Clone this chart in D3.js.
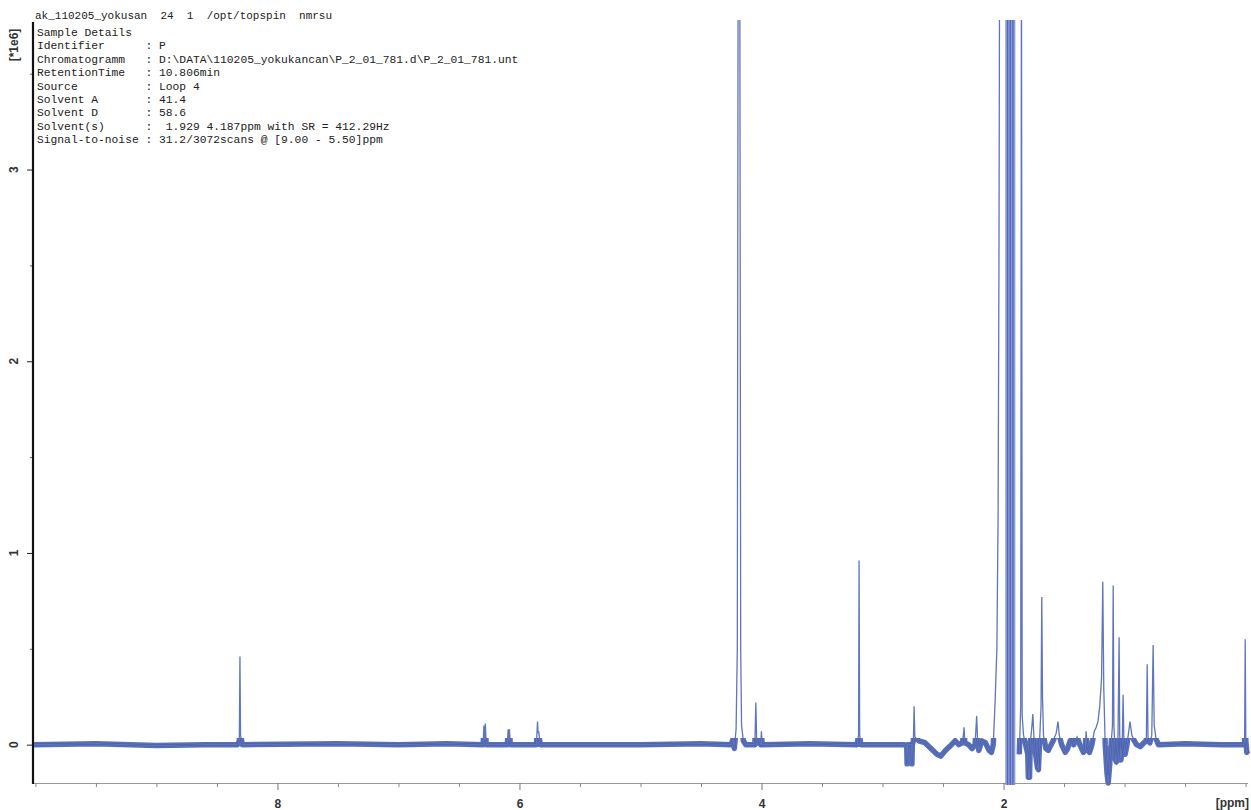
<!DOCTYPE html>
<html><head><meta charset="utf-8">
<script src="https://cdn.jsdelivr.net/npm/d3@7"></script>
<style>body{margin:0;background:#fff;} svg{display:block;} text{white-space:pre;}</style>
</head><body>
<svg id="c" width="1251" height="810"></svg>
<script>
// ---------- data ----------
const headerLine = "ak_110205_yokusan  24  1  /opt/topspin  nmrsu";
const detailLines = [
  "Sample Details",
  "Identifier      : P",
  "Chromatogramm   : D:\\DATA\\110205_yokukancan\\P_2_01_781.d\\P_2_01_781.unt",
  "RetentionTime   : 10.806min",
  "Source          : Loop 4",
  "Solvent A       : 41.4",
  "Solvent D       : 58.6",
  "Solvent(s)      :  1.929 4.187ppm with SR = 412.29Hz",
  "Signal-to-noise : 31.2/3072scans @ [9.00 - 5.50]ppm"
];
const xTickValues = [8, 6, 4, 2];
const xMinorTicks = [10, 9.5, 9, 8.5, 7.5, 7, 6.5, 5.5, 5, 4.5, 3.5, 3, 2.5, 1.5, 1, 0.5, 0];
const yTickValues = [0, 1, 2, 3];
const yMinorTicks = [0.5, 1.5, 2.5, 3.5];
const yUnitLabel = "[*1e6]";
const xUnitLabel = "[ppm]";

// spectrum: [ppm, intensity (x1e6)]; null intensity = gap in the trace
const spectrum = [
  [10.02, 0.0], [9.5, 0.005], [9.0, -0.005], [8.6, 0.0],
  [8.33, 0.0], [8.315, 0.02], [8.31, 0.46], [8.305, 0.05], [8.29, 0.0],
  [7.5, 0.005], [7.0, 0.0], [6.6, 0.005],
  [6.30, 0.0], [6.294, 0.10], [6.288, 0.02], [6.282, 0.11], [6.275, 0.0],
  [6.10, 0.0], [6.094, 0.08], [6.089, 0.02], [6.083, 0.08], [6.076, 0.0],
  [5.86, 0.0], [5.851, 0.12], [5.846, 0.06], [5.841, 0.07], [5.83, 0.0],
  [5.0, 0.0], [4.5, 0.005],
  [4.25, 0.0], [4.235, 0.03], [4.225, -0.02], [4.21, 0.08], [4.2, 0.5],
  [4.193, 4.3], [4.18, 4.3], [4.172, 0.5], [4.165, 0.1], [4.15, 0.02], [4.13, 0.0],
  [4.055, 0.0], [4.047, 0.22], [4.04, 0.02], [4.006, 0.0], [4.001, 0.07], [3.995, 0.0],
  [3.6, 0.005],
  [3.21, 0.0], [3.198, 0.05], [3.194, 0.96], [3.189, 0.05], [3.18, 0.0],
  [2.82, 0.0], [2.80, -0.01], [2.797, -0.1], [2.794, 0.0], [2.76, 0.0], [2.757, -0.1],
  [2.754, 0.0], [2.745, 0.02], [2.739, 0.2], [2.733, 0.04], [2.70, 0.02], [2.65, 0.01],
  [2.6, -0.02], [2.55, -0.05], [2.52, -0.06], [2.48, -0.03], [2.43, 0.0], [2.40, 0.02],
  [2.37, 0.0], [2.34, 0.01], [2.33, 0.06], [2.326, 0.09], [2.32, 0.01], [2.29, 0.0],
  [2.26, -0.02], [2.235, 0.0], [2.222, 0.15], [2.215, 0.03], [2.205, -0.03], [2.18, 0.02],
  [2.15, 0.01], [2.12, -0.03], [2.10, -0.04], [2.085, 0.0], [2.07, 0.22], [2.055, 0.5],
  [2.045, 1.2], [2.038, 2.5], [2.032, 4.3], [1.99, 4.3], [1.985, null],
  [1.87, -0.05], [1.858, 0.2], [1.852, 4.3], [1.846, 0.15],
  [1.835, 0.05], [1.80, -0.05], [1.795, -0.17], [1.785, -0.17], [1.78, 0.0], [1.765, 0.1],
  [1.758, 0.16], [1.75, 0.05], [1.735, -0.05], [1.72, -0.12], [1.712, -0.13], [1.70, 0.05],
  [1.69, 0.2], [1.684, 0.77], [1.678, 0.25], [1.67, 0.05], [1.65, -0.02], [1.63, -0.03],
  [1.615, -0.01], [1.59, 0.02], [1.565, 0.06], [1.55, 0.12], [1.54, 0.05], [1.52, 0.0],
  [1.49, -0.04], [1.47, -0.02], [1.45, 0.02], [1.433, 0.03], [1.42, 0.0], [1.40, 0.03],
  [1.392, 0.04], [1.37, 0.0], [1.34, -0.04], [1.325, -0.03], [1.318, 0.07], [1.31, 0.0],
  [1.29, -0.04], [1.27, 0.0], [1.25, 0.07], [1.235, 0.09], [1.22, 0.12], [1.205, 0.2],
  [1.19, 0.35], [1.18, 0.85], [1.172, 0.3], [1.16, 0.0], [1.145, -0.15], [1.135, -0.2],
  [1.125, -0.12], [1.1, 0.1], [1.094, 0.83], [1.088, 0.1], [1.075, -0.08], [1.068, -0.09],
  [1.055, 0.0], [1.045, 0.56], [1.04, 0.05], [1.03, -0.08], [1.02, -0.02], [1.012, 0.26],
  [1.005, 0.0], [0.995, -0.05], [0.98, 0.0], [0.955, 0.12], [0.94, 0.05], [0.92, 0.02],
  [0.90, 0.0], [0.87, -0.01], [0.84, 0.01], [0.82, 0.02], [0.813, 0.42], [0.806, 0.02],
  [0.79, 0.01], [0.775, 0.05], [0.764, 0.52], [0.755, 0.1], [0.74, 0.03], [0.72, 0.0],
  [0.5, 0.005], [0.2, 0.0], [0.02, 0.0], [0.008, 0.01], [0.003, 0.55], [-0.002, 0.02],
  [-0.01, -0.04], [-0.02, -0.03]
];
// solvent suppression region (ppm from, ppm to) and its dense vertical traces
const solventBand = [1.984, 1.903];
const solventLines = [1.978, 1.966, 1.955, 1.944, 1.933, 1.922, 1.911];

// ---------- drawing ----------
const svg = d3.select("#c");
const x = d3.scaleLinear().domain([10.02, -0.02]).range([33, 1248]);
const y = d3.scaleLinear().domain([-0.2, 3.78]).range([783, 20]);
const mono = "'Liberation Mono', 'Courier New', monospace";
const sans = "'Liberation Sans', Arial, sans-serif";

const defs = svg.append("defs");
defs.append("clipPath").attr("id", "plot")
  .append("rect").attr("x", 34).attr("y", 20).attr("width", 1216).attr("height", 766);
defs.append("clipPath").attr("id", "low")
  .append("rect").attr("x", 34).attr("y", y(0.035)).attr("width", 1216).attr("height", 786 - y(0.035));

// header text
svg.append("text").attr("x", 35).attr("y", 19)
  .attr("font-family", mono).attr("font-size", 11).attr("fill", "#222").text(headerLine);
svg.append("g").selectAll("text").data(detailLines).join("text")
  .attr("x", 37).attr("y", (d, i) => 36 + i * 13.4)
  .attr("font-family", mono).attr("font-size", 11.3).attr("fill", "#222").text(d => d);

// x axis
svg.append("line").attr("x1", x(10.02)).attr("x2", x(-0.02))
  .attr("y1", 783.5).attr("y2", 783.5).attr("stroke", "#9a9a9a").attr("stroke-width", 1);
const gx = svg.append("g").attr("transform", "translate(0,783)")
  .call(d3.axisBottom(x).tickValues(xTickValues).tickSize(7).tickPadding(9).tickFormat(d3.format("d")));
gx.select(".domain").remove();
gx.selectAll("line").attr("stroke", "#777");
gx.selectAll("text").attr("font-family", sans)
  .attr("font-size", 12).attr("font-weight", "bold").attr("fill", "#333");
const gxm = svg.append("g").attr("transform", "translate(0,783)")
  .call(d3.axisBottom(x).tickValues(xMinorTicks).tickSize(4).tickFormat(""));
gxm.select(".domain").remove();
gxm.selectAll("line").attr("stroke", "#888");
svg.append("text").attr("x", 1249).attr("y", 807).attr("text-anchor", "end")
  .attr("font-family", sans).attr("font-size", 12)
  .attr("font-weight", "bold").attr("fill", "#333").text(xUnitLabel);

// y axis
const gy = svg.append("g").attr("transform", "translate(33,0)")
  .call(d3.axisLeft(y).tickValues(yTickValues).tickSize(6).tickFormat(""));
gy.select(".domain").remove();
gy.selectAll("line").attr("stroke", "#222");
const gym = svg.append("g").attr("transform", "translate(33,0)")
  .call(d3.axisLeft(y).tickValues(yMinorTicks).tickSize(3).tickFormat(""));
gym.select(".domain").remove();
gym.selectAll("line").attr("stroke", "#666");
svg.append("line").attr("x1", 33).attr("x2", 33).attr("y1", 22).attr("y2", 784)
  .attr("stroke", "#111").attr("stroke-width", 2.2);
svg.append("g").selectAll("text").data(yTickValues).join("text")
  .attr("transform", d => `translate(18,${y(d)}) rotate(-90)`)
  .attr("text-anchor", "middle")
  .attr("font-family", sans).attr("font-size", 12)
  .attr("font-weight", "bold").attr("fill", "#333").text(d => d);
svg.append("text").attr("transform", "translate(18,45) rotate(-90)")
  .attr("text-anchor", "middle")
  .attr("font-family", sans).attr("font-size", 12)
  .attr("font-weight", "bold").attr("fill", "#333").text(yUnitLabel);

// spectrum
const line = d3.line().defined(d => d[1] !== null).x(d => x(d[0])).y(d => y(d[1]));
const plot = svg.append("g").attr("clip-path", "url(#plot)");

// solvent band
plot.append("rect")
  .attr("x", x(solventBand[0])).attr("width", x(solventBand[1]) - x(solventBand[0]))
  .attr("y", y(3.78)).attr("height", y(-0.21) - y(3.78))
  .attr("fill", "#7387cc");
plot.append("g").selectAll("line").data(solventLines).join("line")
  .attr("x1", d => x(d)).attr("x2", d => x(d))
  .attr("y1", y(3.78)).attr("y2", y(-0.21))
  .attr("stroke", (d, i) => i % 2 ? "#4f66b8" : "#8e9dd9").attr("stroke-width", 1.2);

// noise band near baseline (thick stroke)
const low = plot.append("g").attr("clip-path", "url(#low)");
low.append("path").datum(spectrum).attr("d", line)
  .attr("fill", "none").attr("stroke", "#5a70bb").attr("stroke-width", 5.5)
  .attr("stroke-linejoin", "round");
low.append("path").datum(spectrum).attr("d", line)
  .attr("fill", "none").attr("stroke", "#35519f").attr("stroke-width", 1.8);
// thin trace
plot.append("path").datum(spectrum).attr("d", line)
  .attr("fill", "none").attr("stroke", "#5f75bd").attr("stroke-width", 1.3);
</script>
</body></html>
